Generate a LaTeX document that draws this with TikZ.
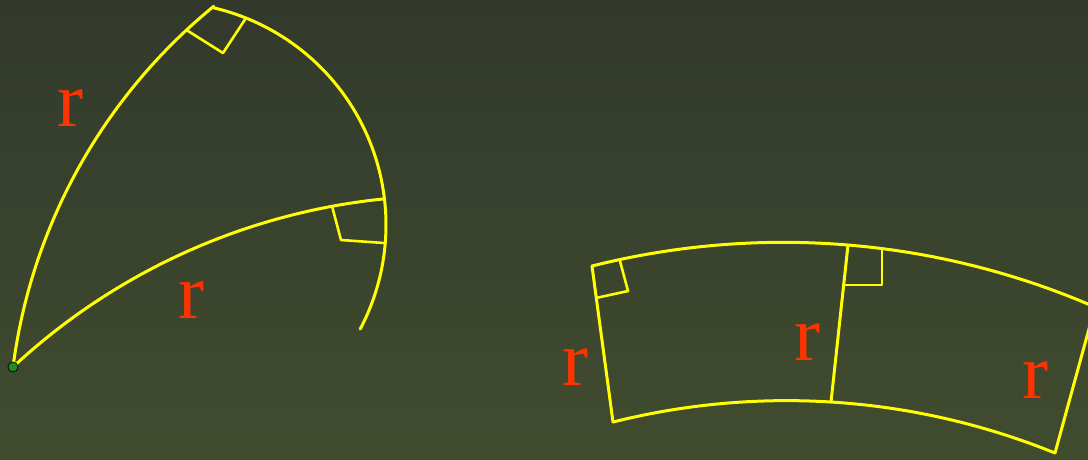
\documentclass[tikz,border=0pt]{standalone}
\usepackage{fontspec}
\setmainfont{Liberation Serif}
\definecolor{bgtop}{RGB}{50,57,44}
\definecolor{bgbot}{RGB}{64,76,46}
\definecolor{lineyel}{RGB}{255,255,0}
\definecolor{labred}{RGB}{255,51,0}
\definecolor{dotgreen}{RGB}{30,140,30}
\tikzset{
  curve/.style={draw=lineyel, line width=3pt, line join=round, line cap=round},
  rmark/.style={draw=lineyel, line width=2.6pt, line join=round, line cap=round},
  rlabel/.style={text=labred, inner sep=0pt, font=\fontsize{78}{78}\selectfont},
}
\begin{document}
\begin{tikzpicture}[x=1pt, y=-1pt]
\useasboundingbox (0,0) rectangle (1088,459);
\shade[top color=bgtop, bottom color=bgbot] (0,0) rectangle (1088,459);
\clip (0,0) rectangle (1088,459);

% ---------- left figure ----------
\coordinate (A) at (13,367);
% arc A-B (centre (566.4,438.7), R 558)
\draw[curve] plot[domain=172.62:129.2, samples=80, variable=\t]
  ({566.4+558*cos(\t)},{438.7-558*sin(\t)});
% arc A-C (centre (448.3,834.2), R 638.6)
\draw[curve] plot[domain=132.97:95.87, samples=80, variable=\t]
  ({448.3+638.6*cos(\t)},{834.2-638.6*sin(\t)});
% big arc (centre (163,225), R 223)
\draw[curve] plot[domain=76.9:-27.8, samples=100, variable=\t]
  ({163+223*cos(\t)},{225-223*sin(\t)});
% right angle marks
\draw[rmark] (188,31) -- (223,53) -- (246,18);
\draw[rmark] (332,206) -- (341,240) -- (384,243);
\node[circle, fill=dotgreen, draw=black, line width=0.7pt, minimum size=10pt, inner sep=0pt] (dotA) at (A) {};

\node[rlabel] (r1) at (70,108) {r};
\node[rlabel] (r2) at (191,300) {r};

% ---------- right figure ----------
\coordinate (P1) at (592,266);
\coordinate (P2) at (613,422);
\coordinate (M1) at (848,245);
\coordinate (M2) at (831,402);
\coordinate (P3) at (1095,307);
\coordinate (P4) at (1055,453);
% top arc (centre (783.2,1026.2), R 783.9)
\draw[curve] plot[domain=104.12:66.4, samples=100, variable=\t]
  ({783.2+783.9*cos(\t)},{1026.2-783.9*sin(\t)});
% bottom arc (centre (786.5,1114.9), R 714.3)
\draw[curve] plot[domain=104.06:67.93, samples=100, variable=\t]
  ({786.5+714.3*cos(\t)},{1114.9-714.3*sin(\t)});
\draw[curve] (P1) -- (P2);
\draw[curve] (M1) -- (M2);
\draw[curve] (P3) -- (P4);
% right angle marks
\draw[rmark] (596,298) -- (628,291) -- (620,261);
\draw[rmark] (844,285) -- (882,285) -- (882,250);

\node[rlabel] (r3) at (575,367) {r};
\node[rlabel] (r4) at (807,342) {r};
\node[rlabel] (r5) at (1035,380) {r};
\end{tikzpicture}
\end{document}
